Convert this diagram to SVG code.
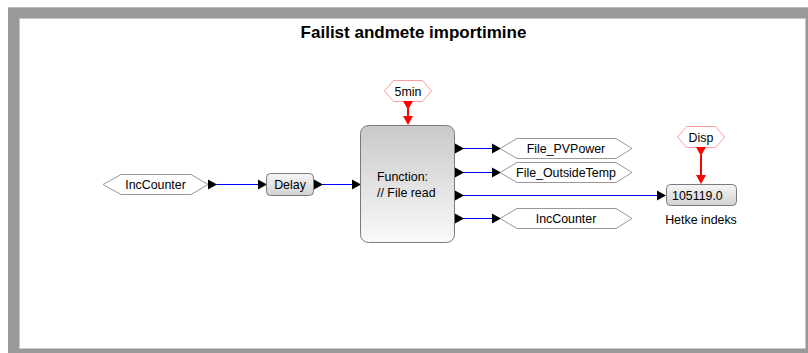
<svg xmlns="http://www.w3.org/2000/svg" width="808" height="353" viewBox="0 0 808 353">
<defs>
<linearGradient id="gBox" x1="0" y1="0" x2="0" y2="1"><stop offset="0" stop-color="#f6f6f6"/><stop offset="1" stop-color="#d2d2d2"/></linearGradient>
<linearGradient id="gFunc" x1="0" y1="0" x2="0" y2="1"><stop offset="0" stop-color="#c9c9c9"/><stop offset="1" stop-color="#fafafa"/></linearGradient>
<polygon id="tri" points="0,-5 9,0 0,5"/>
<polygon id="triD" points="-5,0 5,0 0,9"/>
</defs>
<style>
text{font-family:"Liberation Sans",Arial,sans-serif;font-size:12.4px;fill:#000}
.c{text-anchor:middle}
.hex{fill:#fff;stroke:#999;stroke-width:1}
.hexr{fill:#fff;stroke:#ff9f9f;stroke-width:1}
.box{fill:url(#gBox);stroke:#7a7a7a;stroke-width:1}
.blue{stroke:#0000ff;stroke-width:1;fill:none}
.red{stroke:#ff0000;stroke-width:2;fill:none}
.port{fill:#000}
.rport{fill:#ff0000}
</style>
<rect x="8" y="7" width="800" height="346" fill="#999"/>
<rect x="8" y="7" width="800" height="1" fill="#bbb"/>
<rect x="19.5" y="18.5" width="786" height="330" fill="#fff" stroke="#c8c8c8" stroke-width="1"/>
<text x="413.5" y="38" class="c" style="font-size:17px;font-weight:bold">Failist andmete importimine</text>

<g id="connectors">
<line class="blue" x1="216" y1="184.5" x2="259" y2="184.5"/>
<use href="#tri" x="258" y="184.5" class="port"/>
<line class="blue" x1="322" y1="184.5" x2="353" y2="184.5"/>
<use href="#tri" x="352" y="184.5" class="port"/>
<line class="blue" x1="463" y1="148.5" x2="493" y2="148.5"/>
<use href="#tri" x="492" y="148.5" class="port"/>
<line class="blue" x1="463" y1="172.5" x2="493" y2="172.5"/>
<use href="#tri" x="492" y="172.5" class="port"/>
<line class="blue" x1="463" y1="195.5" x2="658" y2="195.5"/>
<use href="#tri" x="657" y="195.5" class="port"/>
<line class="blue" x1="463" y1="218.5" x2="493" y2="218.5"/>
<use href="#tri" x="492" y="218.5" class="port"/>
<line class="red" x1="408" y1="109" x2="408" y2="117"/>
<use href="#triD" x="408" y="116" class="rport"/>
<line class="red" x1="701" y1="155" x2="701" y2="176"/>
<use href="#triD" x="701" y="175" class="rport"/>
</g>

<g id="inc-in">
<polygon class="hex" points="103,184.5 121,174.5 191,174.5 208,184.5 191,194.5 121,194.5"/>
<text x="155.5" y="189" class="c">IncCounter</text>
<use href="#tri" x="208" y="184.5" class="port"/>
</g>

<g id="delay">
<rect class="box" x="266.5" y="173.5" width="47" height="22" rx="4"/>
<text x="290" y="189" class="c">Delay</text>
<use href="#tri" x="314" y="184.5" class="port"/>
</g>

<g id="function">
<rect x="360.5" y="125.5" width="94" height="117" rx="8" fill="url(#gFunc)" stroke="#7a7a7a"/>
<text x="377" y="181">Function:</text>
<text x="377" y="197">// File read</text>
<use href="#tri" x="455" y="148.5" class="port"/>
<use href="#tri" x="455" y="172.5" class="port"/>
<use href="#tri" x="455" y="195.5" class="port"/>
<use href="#tri" x="455" y="218.5" class="port"/>
</g>

<g id="timer">
<polygon class="hexr" points="384.5,91 393.5,80.5 422.5,80.5 431.5,91 422.5,101.5 393.5,101.5"/>
<text x="408" y="95.5" class="c">5min</text>
<use href="#triD" x="408" y="101" class="rport"/>
</g>

<g id="pvpower">
<polygon class="hex" points="500,148.5 517,138.5 616,138.5 632,148.5 616,158.5 517,158.5"/>
<text x="566" y="153" class="c">File_PVPower</text>
</g>

<g id="outsidetemp">
<polygon class="hex" points="500,172.5 517,162.5 616,162.5 632,172.5 616,182.5 517,182.5"/>
<text x="566" y="177" class="c">File_OutsideTemp</text>
</g>

<g id="inc-out">
<polygon class="hex" points="500,218.5 517,208.5 616,208.5 632,218.5 616,228.5 517,228.5"/>
<text x="566" y="223" class="c">IncCounter</text>
</g>

<g id="disp-trigger">
<polygon class="hexr" points="677.5,137 686.5,126.5 715.5,126.5 724.5,137 715.5,147.5 686.5,147.5"/>
<text x="701" y="141.5" class="c">Disp</text>
<use href="#triD" x="701" y="147" class="rport"/>
</g>

<g id="display">
<rect class="box" x="666.5" y="184.5" width="70" height="21" rx="4"/>
<text x="672" y="200">105119.0</text>
<text x="701" y="224" class="c">Hetke indeks</text>
</g>
</svg>
